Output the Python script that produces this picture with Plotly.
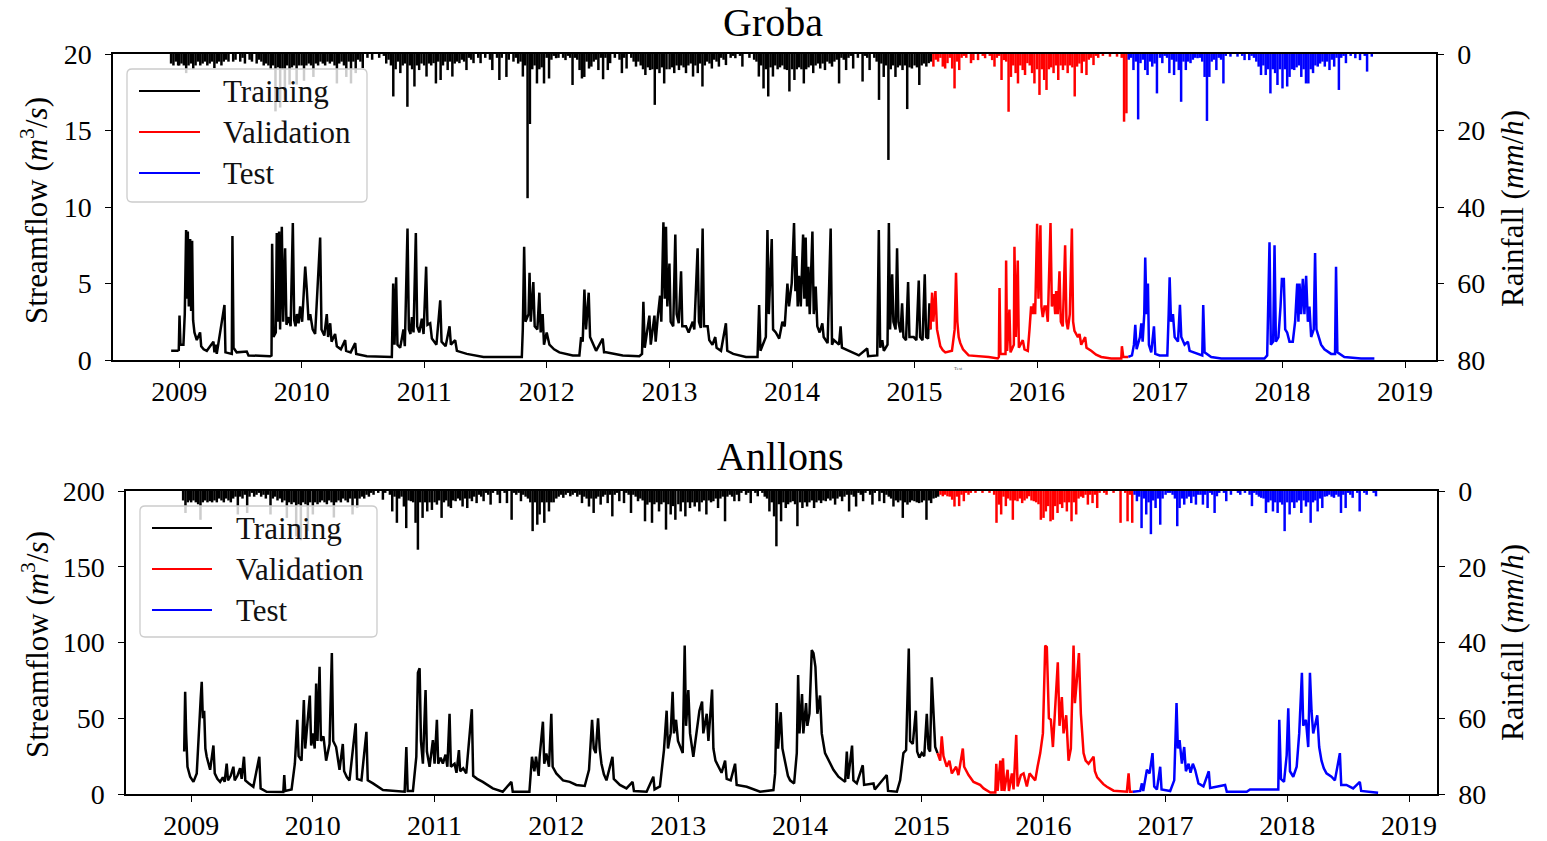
import plotly.graph_objects as go
import pandas as pd

# ---------------- DATA ----------------
years_ticks = list(range(2009, 2020))
split_train_end = "2015-02-20"
split_val_end = "2016-09-28"

# Groba streamflow (decimal year, m3/s)
groba_q_train = [
(2008.935,0.6),(2008.986,0.6),(2008.997,0.65),(2009.003,2.9),(2009.011,1.0),(2009.035,1.0),(2009.046,3.0),(2009.057,8.5),(2009.065,4.0),(2009.071,8.4),(2009.079,3.5),(2009.09,7.9),(2009.098,3.2),(2009.106,7.8),(2009.114,2.6),(2009.125,1.8),(2009.144,1.3),(2009.171,1.8),(2009.18,0.9),(2009.2,0.7),(2009.226,0.6),(2009.28,1.2),(2009.288,0.5),(2009.30,1.0),(2009.307,0.4),(2009.37,3.6),(2009.378,0.5),(2009.43,0.4),(2009.435,8.1),(2009.444,0.8),(2009.47,0.5),(2009.552,0.55),(2009.566,0.3),(2009.743,0.25),
(2009.754,0.3),(2009.759,7.6),(2009.77,1.5),(2009.789,1.8),(2009.797,8.3),(2009.805,2.5),(2009.816,8.4),(2009.824,2.0),(2009.838,8.7),(2009.849,2.5),(2009.865,7.3),(2009.876,2.3),(2009.895,2.8),(2009.91,2.2),(2009.928,8.95),(2009.939,2.6),(2009.95,2.2),(2009.961,3.0),(2009.975,2.4),(2009.988,3.5),(2010.004,2.5),(2010.029,6.1),(2010.042,4.6),(2010.056,2.6),(2010.07,3.0),(2010.09,2.0),(2010.11,1.7),(2010.151,8.0),(2010.162,2.0),(2010.185,1.6),(2010.205,3.0),(2010.216,1.5),(2010.233,2.4),(2010.244,1.2),(2010.273,1.7),(2010.287,0.9),(2010.32,0.7),(2010.355,1.3),(2010.363,0.6),(2010.4,0.5),(2010.437,1.1),(2010.445,0.4),(2010.532,0.25),(2010.668,0.2),(2010.736,0.2),
(2010.747,5.0),(2010.758,1.0),(2010.771,5.4),(2010.782,1.0),(2010.804,0.8),(2010.831,2.0),(2010.842,0.9),(2010.864,8.6),(2010.875,2.0),(2010.888,1.7),(2010.9,2.8),(2010.913,1.8),(2010.932,8.3),(2010.943,2.2),(2010.96,1.8),(2010.981,2.7),(2010.995,1.7),(2011.016,6.1),(2011.027,2.3),(2011.049,2.4),(2011.063,1.4),(2011.1,1.0),(2011.131,3.9),(2011.142,1.2),(2011.175,0.9),(2011.207,2.2),(2011.218,1.0),(2011.253,1.3),(2011.267,0.6),(2011.3,0.5),(2011.348,0.4),(2011.484,0.2),(2011.797,0.2),
(2011.805,2.0),(2011.816,7.4),(2011.827,2.5),(2011.852,3.0),(2011.86,5.7),(2011.87,2.5),(2011.891,5.1),(2011.902,2.2),(2011.924,2.0),(2011.94,4.4),(2011.951,1.8),(2011.967,3.0),(2011.978,1.0),(2012.0,1.8),(2012.022,1.0),(2012.06,0.7),(2012.103,0.5),(2012.212,0.3),(2012.266,0.3),(2012.28,1.5),(2012.293,1.2),(2012.307,4.6),(2012.32,2.0),(2012.342,4.4),(2012.353,1.5),(2012.369,1.2),(2012.402,0.6),(2012.456,1.4),(2012.467,0.5),(2012.483,0.5),(2012.619,0.3),(2012.754,0.25),
(2012.776,0.4),(2012.787,3.8),(2012.798,0.8),(2012.836,2.9),(2012.847,1.0),(2012.877,2.9),(2012.887,1.2),(2012.904,2.8),(2012.923,4.2),(2012.933,2.5),(2012.95,9.0),(2012.961,4.0),(2012.971,8.7),(2012.982,3.5),(2012.999,6.3),(2013.009,2.5),(2013.03,2.2),(2013.047,8.2),(2013.058,3.0),(2013.075,2.4),(2013.094,5.8),(2013.104,2.2),(2013.134,2.2),(2013.156,1.8),(2013.189,2.5),(2013.202,2.0),(2013.229,7.3),(2013.24,2.5),(2013.255,2.1),(2013.27,8.6),(2013.281,2.2),(2013.311,2.2),(2013.324,1.3),(2013.35,1.0),(2013.373,1.5),(2013.384,0.8),(2013.42,0.6),(2013.46,2.4),(2013.471,0.6),(2013.52,0.4),(2013.623,0.2),(2013.718,0.2),
(2013.731,3.6),(2013.742,0.6),(2013.786,1.5),(2013.799,8.5),(2013.81,3.0),(2013.834,7.9),(2013.845,2.0),(2013.867,1.8),(2013.895,1.4),(2013.921,2.5),(2013.94,2.2),(2013.962,5.0),(2013.975,3.5),(2013.997,5.0),(2014.016,8.95),(2014.027,4.5),(2014.035,6.8),(2014.046,3.5),(2014.057,5.5),(2014.071,3.5),(2014.09,8.2),(2014.1,4.0),(2014.111,8.0),(2014.122,3.5),(2014.133,6.1),(2014.144,3.0),(2014.166,8.4),(2014.177,3.0),(2014.193,4.8),(2014.206,2.2),(2014.225,1.8),(2014.247,2.4),(2014.258,1.5),(2014.29,1.1),(2014.315,8.6),(2014.326,1.0),(2014.342,1.3),(2014.383,1.0),(2014.396,2.2),(2014.407,0.8),(2014.464,0.6),(2014.545,0.3),(2014.613,0.75),(2014.621,0.25),(2014.695,0.3),
(2014.708,8.5),(2014.719,0.8),(2014.736,1.3),(2014.749,0.6),(2014.779,1.0),(2014.79,8.95),(2014.8,2.0),(2014.817,5.6),(2014.827,2.5),(2014.845,2.0),(2014.857,7.3),(2014.868,2.5),(2014.885,1.8),(2014.898,3.7),(2014.909,1.5),(2014.93,1.3),(2014.947,5.1),(2014.958,1.5),(2014.993,1.5),(2015.015,1.3),(2015.034,5.2),(2015.045,1.5),(2015.065,1.3),(2015.083,5.6),(2015.094,1.5),(2015.11,1.4),(2015.121,3.7),(2015.129,2.0)]

groba_q_val = [
(2015.129,2.0),(2015.143,4.4),(2015.153,2.5),(2015.17,4.5),(2015.183,2.0),(2015.197,1.3),(2015.21,0.9),(2015.23,0.65),(2015.251,0.5),(2015.305,0.6),(2015.327,2.0),(2015.338,5.7),(2015.349,2.5),(2015.36,1.5),(2015.373,1.1),(2015.395,0.7),(2015.441,0.3),(2015.604,0.2),(2015.679,0.1),(2015.688,0.2),(2015.693,4.7),(2015.701,0.4),(2015.742,0.4),(2015.747,6.5),(2015.755,0.6),(2015.774,3.3),(2015.783,0.5),(2015.81,1.0),(2015.815,7.4),(2015.826,1.5),(2015.842,6.5),(2015.851,0.8),(2015.883,1.3),(2015.897,0.7),(2015.924,0.6),(2015.938,2.0),(2015.951,3.5),(2015.965,3.0),(2015.973,3.7),(2015.984,3.0),(2016.0,8.9),(2016.011,4.0),(2016.027,8.8),(2016.035,3.5),(2016.046,2.8),(2016.06,3.5),(2016.073,3.5),(2016.087,2.5),(2016.109,8.95),(2016.12,3.5),(2016.136,4.3),(2016.147,3.0),(2016.155,4.5),(2016.168,3.0),(2016.182,5.8),(2016.193,2.5),(2016.209,2.2),(2016.228,7.5),(2016.239,2.5),(2016.25,2.0),(2016.266,3.0),(2016.283,8.6),(2016.293,2.5),(2016.304,1.9),(2016.332,1.5),(2016.345,1.7),(2016.359,1.0),(2016.391,1.5),(2016.402,0.8),(2016.44,0.6),(2016.48,0.35),(2016.522,0.2),(2016.603,0.1),(2016.685,0.1),(2016.69,0.9),(2016.701,0.2),(2016.743,0.2)]

groba_q_test = [
(2016.743,0.2),(2016.772,0.3),(2016.788,1.0),(2016.799,2.3),(2016.81,0.7),(2016.837,1.5),(2016.848,2.4),(2016.859,1.2),(2016.872,3.0),(2016.88,6.7),(2016.891,3.0),(2016.902,5.0),(2016.91,1.0),(2016.929,0.5),(2016.951,2.2),(2016.962,0.4),(2016.997,0.3),(2017.06,0.3),(2017.071,3.0),(2017.079,5.4),(2017.09,2.5),(2017.106,3.0),(2017.12,1.5),(2017.147,1.2),(2017.163,3.6),(2017.174,1.5),(2017.201,1.0),(2017.228,1.2),(2017.242,0.6),(2017.283,0.5),(2017.345,0.3),(2017.353,3.6),(2017.364,0.5),(2017.418,0.2),(2017.5,0.1),(2017.853,0.1),(2017.875,0.3),(2017.894,7.7),(2017.905,1.0),(2017.924,1.2),(2017.935,7.5),(2017.946,1.2),(2017.967,1.5),(2017.984,3.5),(2017.995,5.3),(2018.011,5.3),(2018.022,2.0),(2018.038,1.8),(2018.057,1.2),(2018.084,1.2),(2018.103,2.5),(2018.12,5.0),(2018.13,2.5),(2018.139,5.0),(2018.152,3.0),(2018.166,5.3),(2018.179,3.0),(2018.193,5.5),(2018.207,2.5),(2018.22,3.5),(2018.234,1.5),(2018.255,2.0),(2018.266,7.0),(2018.277,2.0),(2018.293,1.5),(2018.315,1.0),(2018.342,0.7),(2018.397,0.4),(2018.429,0.4),(2018.437,6.1),(2018.448,0.5),(2018.505,0.2),(2018.641,0.1),(2018.75,0.1)]

# Anllons streamflow (decimal year, m3/s)
anllons_q_train = [
(2008.943,28),(2008.951,67.5),(2008.959,40),(2008.97,18),(2008.992,11.4),(2009.019,8),(2009.046,13.6),(2009.068,53),(2009.079,64),(2009.087,74),(2009.096,50),(2009.107,55),(2009.117,30),(2009.128,24.6),(2009.156,16),(2009.183,32),(2009.194,13.6),(2009.215,10),(2009.238,8),(2009.26,11),(2009.275,8),(2009.292,20),(2009.303,9),(2009.325,12),(2009.347,18),(2009.358,9),(2009.38,12),(2009.402,17),(2009.415,10),(2009.434,24.6),(2009.445,9),(2009.475,7),(2009.511,4.8),(2009.56,24.6),(2009.571,3.7),(2009.62,1.5),(2009.757,1.3),(2009.765,12.5),(2009.773,2),(2009.825,3),
(2009.852,20),(2009.872,49),(2009.883,25),(2009.907,22),(2009.926,62),(2009.937,30),(2009.962,53),(2009.975,65),(2009.986,32),(2010.0,40),(2010.015,30),(2010.027,73),(2010.038,35),(2010.055,84),(2010.066,35),(2010.087,38),(2010.109,22),(2010.137,33),(2010.156,93),(2010.167,35),(2010.191,31),(2010.219,16),(2010.246,33),(2010.257,15),(2010.28,11),(2010.301,9),(2010.352,46.6),(2010.363,10),(2010.399,9),(2010.44,41),(2010.451,9),(2010.494,7),(2010.576,2.6),(2010.713,1.5),(2010.754,1.5),(2010.768,31),(2010.779,2),(2010.822,2),
(2010.85,24.6),(2010.863,80),(2010.877,83),(2010.888,35),(2010.904,20),(2010.926,68.6),(2010.937,28),(2010.959,18),(2010.986,35.6),(2011.0,20),(2011.019,49),(2011.03,20),(2011.05,24),(2011.068,20),(2011.09,26),(2011.105,18),(2011.123,53),(2011.134,18),(2011.164,20),(2011.18,14),(2011.2,29),(2011.21,15),(2011.235,17),(2011.26,13.6),(2011.306,56),(2011.317,12),(2011.35,10),(2011.396,8),(2011.478,3.7),(2011.56,1.5),(2011.631,8),(2011.642,1.5),(2011.779,1.5),
(2011.8,24.6),(2011.82,15),(2011.833,24.6),(2011.855,12),(2011.863,24.6),(2011.89,47.7),(2011.901,20),(2011.918,26.8),(2011.94,18),(2011.959,53),(2011.97,18),(2012.0,13.6),(2012.055,9),(2012.11,8),(2012.164,6),(2012.233,5.3),(2012.268,16),(2012.293,49),(2012.307,30),(2012.323,27),(2012.342,50),(2012.356,30),(2012.37,20),(2012.39,13),(2012.411,9),(2012.46,24.6),(2012.471,10),(2012.521,6),(2012.575,3.7),(2012.625,8),(2012.636,2),(2012.74,1.5),(2012.795,11.4),(2012.805,3),(2012.849,5),
(2012.882,29),(2012.904,55),(2012.915,30),(2012.937,40),(2012.953,67.5),(2012.964,40),(2012.981,49),(2012.997,35),(2013.014,31),(2013.036,27),(2013.052,98),(2013.063,45),(2013.082,68.6),(2013.096,40),(2013.123,24.6),(2013.151,42),(2013.173,55),(2013.195,61),(2013.205,40),(2013.233,53),(2013.247,35),(2013.277,69),(2013.288,30),(2013.305,22),(2013.329,18),(2013.355,14),(2013.384,22),(2013.397,10),(2013.43,9),(2013.466,20),(2013.479,6),(2013.562,4.8),(2013.671,1.5),(2013.781,2.6),
(2013.795,13.6),(2013.808,60),(2013.819,30),(2013.841,54),(2013.855,30),(2013.877,20),(2013.9,12),(2013.918,9),(2013.951,7),(2013.973,27),(2013.984,78.5),(2013.995,40),(2014.016,66),(2014.027,40),(2014.049,60),(2014.06,45),(2014.077,53),(2014.096,95),(2014.11,93),(2014.126,84),(2014.142,53),(2014.164,65),(2014.178,40),(2014.205,27),(2014.247,20),(2014.274,16),(2014.315,11.4),(2014.37,8),(2014.384,28),(2014.395,10),(2014.427,32),(2014.438,9),(2014.466,7),(2014.515,19),(2014.526,6),(2014.603,7),(2014.614,3),(2014.712,12.5),(2014.723,2),(2014.795,1.5),
(2014.822,9),(2014.849,27),(2014.871,29),(2014.893,96),(2014.904,35),(2014.926,33),(2014.951,55),(2014.962,28),(2014.98,24),(2015.0,27),(2015.02,25),(2015.041,53),(2015.055,30),(2015.068,28),(2015.082,77),(2015.096,53),(2015.11,31),(2015.129,27)]

anllons_q_val = [
(2015.129,27),(2015.151,22),(2015.164,38),(2015.178,25),(2015.205,18),(2015.227,22),(2015.247,13.6),(2015.282,18),(2015.301,12.5),(2015.337,30),(2015.348,18),(2015.384,12.5),(2015.425,8),(2015.479,6),(2015.508,3.7),(2015.563,1),(2015.604,1),(2015.612,20),(2015.623,2),(2015.645,22),(2015.656,2),(2015.667,23.5),(2015.678,2),(2015.705,16),(2015.716,2),(2015.74,13.6),(2015.754,3),(2015.776,39),(2015.787,5),(2015.814,12.5),(2015.836,13.6),(2015.863,5),(2015.885,13.6),(2015.904,11.4),(2015.932,9),(2015.951,18),(2015.973,27),(2015.995,40),(2016.014,98),(2016.027,97),(2016.044,50),(2016.06,49),(2016.077,31),(2016.096,57.6),(2016.117,87),(2016.131,45),(2016.15,64),(2016.164,40),(2016.186,52),(2016.205,22),(2016.224,30),(2016.246,98),(2016.257,60),(2016.273,75),(2016.29,93),(2016.306,53),(2016.328,27),(2016.345,22),(2016.369,20),(2016.41,24.6),(2016.421,15),(2016.44,11),(2016.464,9),(2016.49,6.5),(2016.519,4.8),(2016.574,2.2),(2016.683,1.5),(2016.697,13.6),(2016.708,1.5),(2016.732,1.5)]

anllons_q_test = [
(2016.732,1.5),(2016.792,2),(2016.806,7),(2016.817,2),(2016.847,16),(2016.869,13.6),(2016.893,27),(2016.907,5),(2016.929,3),(2016.956,18),(2016.967,3),(2017.038,2),(2017.071,9),(2017.09,60),(2017.101,30),(2017.115,35.6),(2017.134,20),(2017.153,31),(2017.167,15),(2017.189,20),(2017.205,14),(2017.224,20),(2017.243,16),(2017.27,7),(2017.311,5),(2017.355,15),(2017.366,4),(2017.421,4.8),(2017.489,6),(2017.503,1.5),(2017.667,1.5),(2017.694,3),(2017.926,3),(2017.934,49),(2017.948,10),(2017.973,8),(2017.995,25.7),(2018.008,56.5),(2018.022,15),(2018.049,11.4),(2018.077,18),(2018.098,40),(2018.109,62),(2018.12,80),(2018.131,45),(2018.153,49),(2018.172,31),(2018.186,80),(2018.199,55),(2018.213,40),(2018.246,52),(2018.262,31),(2018.281,22),(2018.3,17),(2018.322,13.6),(2018.363,11.4),(2018.391,9),(2018.432,27),(2018.443,6),(2018.486,6),(2018.541,3.7),(2018.596,8),(2018.607,2),(2018.678,1.5),(2018.746,0.8)]

# Weekly maximum rainfall (mm/h); weeks start 1 Dec 2008, then 1 Jan of each year
groba_rain_2008 = [0, 2.5, 3, 2, 3]
groba_rain_2009 = [3, 2.5, 3, 5, 3, 2.5, 4, 3, 2, 3, 2.5, 2, 3, 2.5, 2, 3.7, 2.5, 2, 3, 2, 1.5, 2, 0, 2, 1.5, 0, 2, 1, 2.5, 0, 1.5, 2, 0, 2.5, 1.5, 2, 3, 2.5, 3, 4, 3, 15, 3.5, 14, 4, 12, 3, 8, 3.5, 3, 8, 3]
groba_rain_2010 = [3, 7, 3, 2.5, 3, 6, 2.5, 3, 2, 2.5, 3, 2, 2.5, 2, 3, 7.7, 2.5, 2, 3, 6, 2, 7.7, 2, 5, 1.5, 2, 3.7, 0, 1, 0, 1.5, 0, 0, 1, 0, 0.5, 2.5, 1.5, 3, 11.1, 4, 2, 5, 3, 2.5, 13.8, 3, 4, 8.5, 3, 4.2, 2.5]
groba_rain_2011 = [3, 5.9, 2.5, 3, 2.4, 7.7, 2, 6.8, 3, 2, 4.2, 2, 5.9, 2.5, 2, 2.4, 1.5, 2, 4.2, 1, 1.5, 2.4, 0, 1, 2.4, 0, 1, 0, 1.5, 4.2, 0, 1, 6.8, 1, 0, 6, 1.5, 0, 2, 1, 2.5, 2, 5.9, 3, 37.7, 18.3, 4, 3, 7.7, 4, 3.5, 7.7]
groba_rain_2012 = [1, 6.4, 1.5, 0.5, 1.1, 1, 0, 1, 1.6, 0.5, 1, 8.1, 1, 1.5, 4.2, 6.4, 6, 2, 3.8, 3.3, 2, 1.5, 4.2, 1, 6.6, 1, 4.2, 2.4, 0, 1, 0, 1.5, 5, 1, 3.8, 0, 1, 2, 3.3, 2, 3, 4, 5.5, 3.5, 4.2, 4, 13.3, 4, 5, 3.5, 7.7, 4]
groba_rain_2013 = [4, 3.5, 5, 3, 4.2, 3, 3.5, 5, 3, 2.5, 5.9, 3, 5, 2.5, 8.5, 3, 2, 2.5, 3.8, 1.5, 2, 3.3, 1, 1.5, 2.9, 0, 1, 0.5, 1.1, 0, 0.5, 3.3, 0, 0, 1, 0, 1.5, 2, 5.9, 3, 9, 4, 11.1, 3.5, 5.9, 3, 4, 3.5, 3, 4, 4.2, 9.8]
groba_rain_2014 = [4, 6.8, 4, 3.5, 4, 7.7, 4, 3.5, 3, 5, 3, 2.5, 3.8, 2.5, 4.2, 2, 2.5, 3.3, 2, 1.5, 7.7, 1, 1.5, 4.2, 1, 0.5, 3.8, 0, 1, 0, 7.2, 0.5, 1, 4.2, 0, 1, 2, 12, 2.5, 6, 3, 27.7, 4, 3, 6, 3.5, 3, 4.2, 3, 14.4, 3.5, 3.8]
groba_rain_2015 = [3, 3.5, 8.1, 3, 2.5, 3.3, 2.4, 2, 3.3, 1.5, 2, 1, 3.3, 3.8, 2.4, 1, 3.8, 9, 2, 4.2, 1, 0.5, 1, 0, 2.4, 1.6, 0, 1.6, 0, 0.5, 1.1, 0, 0.5, 1.6, 3.3, 1, 0.5, 6.8, 1.6, 2, 15.1, 6, 3, 5, 7.7, 3, 4.2, 5.5, 2.4, 3, 5, 7.7]
groba_rain_2016 = [4, 10.7, 4, 6.8, 9.4, 4, 3.5, 5, 3, 6.8, 3, 4.2, 3, 5, 3, 3.5, 11.1, 3.3, 2.5, 5, 2, 5.5, 1.5, 1, 2.9, 0.5, 1, 0, 0.5, 0, 0, 0.7, 0, 0, 0.7, 0, 1, 17.7, 15.5, 1.5, 1, 4.2, 2, 17.1, 2.4, 1.5, 4.2, 5.5, 2, 3.3, 2.5, 10.3]
groba_rain_2017 = [1, 2.4, 0.5, 1, 5, 1.5, 5.5, 2, 4.2, 12.5, 2, 4.2, 2, 2.4, 1.5, 1, 1.1, 1, 2, 6, 17.5, 6, 2, 1.5, 4.2, 1, 1.5, 7.7, 0.5, 0, 0.7, 0, 0, 0.7, 0, 0.5, 1.6, 0, 1.6, 0.5, 1, 2, 3.3, 5.5, 3, 5.5, 4, 10.3, 4, 5, 8.1, 4]
groba_rain_2018 = [9, 4, 8.5, 6, 4, 4.2, 3.5, 3, 6, 4, 7.7, 7.7, 4, 5, 3, 3.3, 2.5, 2, 3.3, 2, 4.2, 1.5, 3.3, 1, 9.4, 1, 0.5, 2.4, 0, 0.5, 0, 1.1, 0, 1.6, 0, 0.5, 4.6, 0, 0.7]

anllons_rain_2008 = [0, 2.5, 5.8, 3, 2.5]
anllons_rain_2009 = [3, 2.5, 3, 3.5, 7.6, 3, 2.5, 3, 2.7, 3, 2.5, 3, 2, 2.5, 3, 2, 2.5, 3, 2, 1.5, 6.2, 1.5, 2, 1, 5.8, 1.5, 0.5, 1.5, 1, 0.5, 1.5, 1, 2, 1, 6.2, 2, 1.5, 2.5, 2, 3, 2.5, 7.1, 3, 3.5, 3, 12, 3.5, 13, 3, 3.5, 10.6, 3]
anllons_rain_2010 = [6.2, 3, 3.5, 3, 2.5, 3, 3.5, 2.5, 3, 7, 3, 2.5, 3, 2, 2.5, 3, 2, 6.2, 2, 4.5, 2, 1.5, 2, 1, 1.5, 0.5, 1, 0, 0.5, 0, 2.3, 0.5, 0, 1, 5.4, 1.5, 8.4, 2, 1.5, 4.1, 9.8, 2.5, 2.7, 3, 8.4, 15.5, 3, 7.1, 3, 5.4, 3, 5]
anllons_rain_2011 = [3, 3.6, 2.5, 7.1, 3, 2.5, 4.1, 4.5, 2.5, 2.7, 2, 2.5, 4.1, 2, 4.5, 2, 2.7, 1.5, 3.2, 1, 1.5, 2.7, 0.5, 1, 3.6, 0.5, 0, 1, 3.2, 0, 0.5, 3.2, 0, 7.6, 0.5, 1, 0.5, 2.7, 1, 1.5, 2, 3, 10.6, 3, 8.9, 6.2, 3, 8.4, 3, 5.4, 3, 3]
anllons_rain_2012 = [2, 1.5, 1, 1.8, 1, 0.5, 1.4, 1, 0.5, 1.5, 1, 3.2, 1.5, 2, 4.1, 2, 5.8, 2, 1.5, 3.6, 1.5, 1, 3.2, 1, 6.7, 1, 0.5, 2.7, 0, 3.2, 0.5, 1, 5.8, 1, 1.5, 2.7, 2, 2.5, 8, 3.6, 3, 8.4, 3.5, 3, 5.4, 3.5, 3, 10.2, 3.5, 6.2, 4, 7.6]
anllons_rain_2013 = [3.5, 5.4, 3, 6.7, 3, 4.5, 3, 4.1, 3, 5.4, 3, 2.5, 6.2, 2.5, 3, 2.7, 2, 4.5, 2, 1.5, 8, 1.5, 1, 1.5, 2.7, 1, 2.7, 0.5, 0, 1, 0.5, 3.2, 0, 0.5, 1.4, 0, 0.5, 1.5, 2, 5.4, 3, 6.7, 14.6, 3.5, 8, 3, 4.5, 3.5, 3, 2.7, 3.5, 9.3]
anllons_rain_2014 = [3, 4.5, 3, 4.1, 3, 2.5, 4.5, 3, 2.5, 3.2, 2.5, 2.7, 2, 2.5, 2, 3.6, 2, 1.5, 2.7, 1.5, 1, 5.4, 1, 1.5, 4.1, 0.5, 1, 2.7, 0.5, 0, 1, 3.6, 0.5, 0, 2.7, 0.5, 3.2, 1, 1.5, 2, 4.1, 2.5, 3, 2.5, 7.1, 3, 3.6, 3, 2.5, 2.7, 3, 3.2]
anllons_rain_2015 = [3, 2.5, 7.6, 2.5, 3.2, 2, 1.8, 1.5, 1, 1.4, 1, 1.4, 1.5, 2.3, 4.1, 1.5, 4, 1, 2.7, 0.5, 1, 0.5, 0, 0.5, 0, 0, 0.5, 0, 0, 0.5, 0, 1, 8.4, 3.6, 6.2, 1.5, 4, 2, 2.5, 7.6, 2.5, 2.7, 2, 3.2, 2.5, 2, 1.4, 2.5, 2.7, 3, 3.5, 7.6]
anllons_rain_2016 = [7.1, 5.4, 4, 8, 7.6, 4, 5.8, 3.5, 4.5, 3, 5.4, 3, 8, 3, 6.2, 2, 1.5, 1.8, 1, 3.6, 1, 3.2, 1, 4.5, 0.5, 0, 0.5, 1, 0, 0, 0.5, 0, 0, 8.4, 0, 0.5, 8, 1, 8.4, 1, 2.7, 1.5, 9.8, 2, 6.2, 3, 11.4, 2.5, 4.5, 2, 8.9, 2]
anllons_rain_2017 = [1, 0.5, 0.5, 1, 2, 9.3, 4.5, 2, 3.6, 2, 1.5, 3.2, 1.5, 3.6, 1, 1, 3.6, 1, 4.5, 0.5, 1, 5.8, 1.4, 0.5, 0, 0.5, 2.7, 0, 1, 0, 0, 0.5, 1, 0, 0.5, 0, 1, 4, 0.5, 1, 1.5, 1.8, 2, 5.8, 3, 2.5, 5.4, 3, 5.8, 3, 3.6, 10.6]
anllons_rain_2018 = [3, 6.2, 3, 4.5, 3, 2.5, 5.8, 2.5, 4.1, 3, 8.4, 3, 2.5, 5.4, 2, 4.5, 1.5, 1.4, 1, 1.5, 1.8, 1, 1.5, 5.8, 1, 4.5, 0.5, 1, 1.8, 0, 0.5, 5.4, 0, 0.5, 1, 0, 0, 0.5, 1.4]

groba_rain_years = [(2008, groba_rain_2008), (2009, groba_rain_2009), (2010, groba_rain_2010),
                    (2011, groba_rain_2011), (2012, groba_rain_2012), (2013, groba_rain_2013),
                    (2014, groba_rain_2014), (2015, groba_rain_2015), (2016, groba_rain_2016),
                    (2017, groba_rain_2017), (2018, groba_rain_2018)]
anllons_rain_years = [(2008, anllons_rain_2008), (2009, anllons_rain_2009), (2010, anllons_rain_2010),
                      (2011, anllons_rain_2011), (2012, anllons_rain_2012), (2013, anllons_rain_2013),
                      (2014, anllons_rain_2014), (2015, anllons_rain_2015), (2016, anllons_rain_2016),
                      (2017, anllons_rain_2017), (2018, anllons_rain_2018)]

# ---------------- HELPERS ----------------
W, H = 1547, 841


def px(x):
    return x / W


def py(y):
    return 1 - y / H


def dy(t):
    y = int(t)
    s = pd.Timestamp(y, 1, 1)
    e = pd.Timestamp(y + 1, 1, 1)
    return s + (e - s) * (t - y)


def flow_xy(pairs):
    return [dy(t) for t, _ in pairs], [v for _, v in pairs]


def rain_xy(year_lists, lo, hi):
    lo = pd.Timestamp(lo) if lo else pd.Timestamp("1900-01-01")
    hi = pd.Timestamp(hi) if hi else pd.Timestamp("2100-01-01")
    xs, ys = [], []
    for year, vals in year_lists:
        start = pd.Timestamp(2008, 12, 1) if year == 2008 else pd.Timestamp(year, 1, 1)
        for k, v in enumerate(vals):
            d = start + pd.Timedelta(days=7 * k)
            if v > 0 and lo <= d < hi:
                xs += [d, d, None]
                ys += [0, v, None]
    return xs, ys


COLORS = {"train": "#000000", "val": "#ff0000", "test": "#0000ff"}
FONT = "Liberation Serif"

fig = go.Figure()

splits = [("train", None, split_train_end), ("val", split_train_end, split_val_end), ("test", split_val_end, None)]

# rainfall
for panel, years, xa, ya in [("g", groba_rain_years, "x", "y2"), ("a", anllons_rain_years, "x2", "y4")]:
    for name, lo, hi in splits:
        xs, ys = rain_xy(years, lo, hi)
        fig.add_trace(go.Scatter(x=xs, y=ys, mode="lines", xaxis=xa, yaxis=ya,
                                 line=dict(color=COLORS[name], width=2.5), showlegend=False,
                                 hoverinfo="skip"))

# streamflow
for pairs, name, xa, ya in [(groba_q_train, "train", "x", "y"), (groba_q_val, "val", "x", "y"),
                            (groba_q_test, "test", "x", "y"),
                            (anllons_q_train, "train", "x2", "y3"), (anllons_q_val, "val", "x2", "y3"),
                            (anllons_q_test, "test", "x2", "y3")]:
    xs, ys = flow_xy(pairs)
    fig.add_trace(go.Scatter(x=xs, y=ys, mode="lines", xaxis=xa, yaxis=ya,
                             line=dict(color=COLORS[name], width=2.5), showlegend=False))

tickvals = [f"{y}-01-01" for y in years_ticks]
ticktext = [str(y) for y in years_ticks]

common_x = dict(type="date", tickvals=tickvals, ticktext=ticktext, ticks="outside", ticklen=6,
                tickwidth=1.3, tickcolor="black", showline=True, linecolor="black", linewidth=1.5,
                mirror=True, showgrid=False, zeroline=False, automargin=False,
                tickfont=dict(family=FONT, size=28, color="black"))
common_y = dict(ticks="outside", ticklen=6, tickwidth=1.3, tickcolor="black", showline=True,
                linecolor="black", linewidth=1.5, showgrid=False, zeroline=False, automargin=False,
                ticklabelstandoff=8,
                tickfont=dict(family=FONT, size=28, color="black"))

top_dom_x = [px(113), px(1436)]
top_dom_y = [py(360), py(54)]
bot_dom_x = [px(126), px(1437)]
bot_dom_y = [py(794), py(491)]

fig.update_layout(
    template="none",
    width=W, height=H, autosize=False,
    margin=dict(l=0, r=0, t=0, b=0, pad=0, autoexpand=False),
    paper_bgcolor="white", plot_bgcolor="white",
    font=dict(family=FONT, color="black"),
    showlegend=False,
    xaxis=dict(domain=top_dom_x, anchor="y",
               range=[str(dy(2008.4617)), str(dy(2019.2529))], **common_x),
    yaxis=dict(domain=top_dom_y, anchor="x", range=[0, 20], tickvals=[0, 5, 10, 15, 20], **common_y),
    yaxis2=dict(overlaying="y", anchor="x", side="right", range=[80, 0],
                tickvals=[0, 20, 40, 60, 80], **common_y),
    xaxis2=dict(domain=bot_dom_x, anchor="y3",
                range=[str(dy(2008.4663)), str(dy(2019.2299))], **common_x),
    yaxis3=dict(domain=bot_dom_y, anchor="x2", range=[0, 200], tickvals=[0, 50, 100, 150, 200], **common_y),
    yaxis4=dict(overlaying="y3", anchor="x2", side="right", range=[80, 0],
                tickvals=[0, 20, 40, 60, 80], **common_y),
)

annotations = []
shapes = []


def rounded_rect(x0, y0, x1, y1, r):
    X0, X1 = px(x0), px(x1)
    Y0, Y1 = py(y0), py(y1)
    rx, ry = r / W, r / H
    return (f"M {X0+rx},{Y0} L {X1-rx},{Y0} Q {X1},{Y0} {X1},{Y0-ry} "
            f"L {X1},{Y1+ry} Q {X1},{Y1} {X1-rx},{Y1} L {X0+rx},{Y1} Q {X0},{Y1} {X0},{Y1+ry} "
            f"L {X0},{Y0-ry} Q {X0},{Y0} {X0+rx},{Y0} Z")


legend_specs = [
    # box x0, y0, x1, y1, line x0, line x1, text x, row ys
    (127, 69, 367, 202, 139, 200, 221, [91, 132, 173]),
    (140, 506, 377, 637, 152, 212, 234, [528, 569, 610]),
]
labels = [("Training", "train"), ("Validation", "val"), ("Test", "test")]
for bx0, by0, bx1, by1, lx0, lx1, tx, rows in legend_specs:
    shapes.append(dict(type="path", path=rounded_rect(bx0, by0, bx1, by1, 5), xref="paper", yref="paper",
                       fillcolor="rgba(255,255,255,0.8)", line=dict(color="#cccccc", width=1.3),
                       layer="above"))
    for (lab, key), ry in zip(labels, rows):
        shapes.append(dict(type="line", xref="paper", yref="paper", x0=px(lx0), x1=px(lx1),
                           y0=py(ry), y1=py(ry), line=dict(color=COLORS[key], width=2), layer="above"))
        annotations.append(dict(text=lab, x=px(tx), y=py(ry), xref="paper", yref="paper",
                                xanchor="left", yanchor="middle", showarrow=False,
                                font=dict(family=FONT, size=31, color="#111111")))

# titles
annotations.append(dict(text="Groba", x=px(773), y=py(22), xref="paper", yref="paper",
                        xanchor="center", yanchor="middle", showarrow=False,
                        font=dict(family=FONT, size=40, color="black")))
annotations.append(dict(text="Anllons", x=px(780), y=py(456), xref="paper", yref="paper",
                        xanchor="center", yanchor="middle", showarrow=False,
                        font=dict(family=FONT, size=40, color="black")))

# axis labels
for yc in (211, 645):
    annotations.append(dict(text="Streamflow (<i>m</i><sup>3</sup>/<i>s</i>)", x=px(35), y=py(yc),
                            xref="paper", yref="paper", xanchor="center", yanchor="middle",
                            textangle=-90, showarrow=False,
                            font=dict(family=FONT, size=31, color="black")))
    annotations.append(dict(text="Rainfall (<i>mm</i>/<i>h</i>)", x=px(1512), y=py(yc - 2),
                            xref="paper", yref="paper", xanchor="center", yanchor="middle",
                            textangle=-90, showarrow=False,
                            font=dict(family=FONT, size=31, color="black")))

# tiny stray label present in the original figure
annotations.append(dict(text="Test", x=px(958), y=py(368), xref="paper", yref="paper",
                        xanchor="center", yanchor="middle", showarrow=False,
                        font=dict(family=FONT, size=5, color="#555555")))

fig.update_layout(annotations=annotations, shapes=shapes)

fig.write_html("out.html")
